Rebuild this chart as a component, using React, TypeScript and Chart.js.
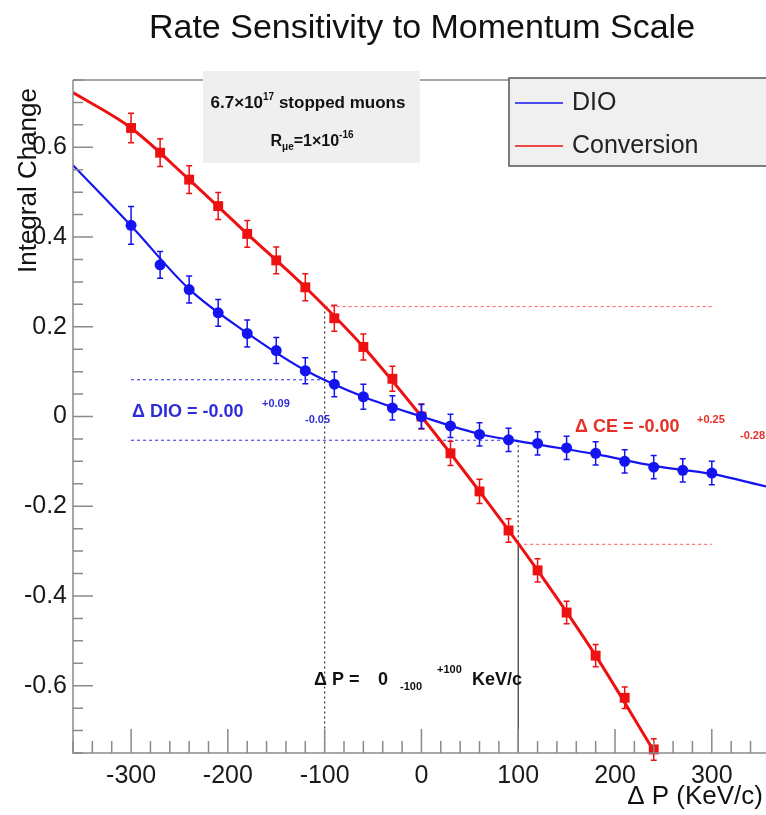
import React, { useEffect, useRef } from "react";
import { Chart, registerables } from "chart.js";

Chart.register(...registerables);

const FAMILY = "'Liberation Sans', Arial, Helvetica, sans-serif";

const TITLE = "Rate Sensitivity to Momentum Scale";
const X_TITLE = "Δ P (KeV/c)";
const Y_TITLE = "Integral Change";

const X_MIN = -360;
const X_MAX = 356;
const Y_MIN = -0.75;
const Y_MAX = 0.75;
const X_TICKS = [-300, -200, -100, 0, 100, 200, 300];
const Y_TICKS = [-0.6, -0.4, -0.2, 0, 0.2, 0.4, 0.6];
const X_MINOR_STEP = 20;
const Y_MINOR_STEP = 0.05;

// DIO measurements
const dioX = [-300, -270, -240, -210, -180, -150, -120, -90, -60, -30, 0, 30, 60, 90, 120, 150, 180, 210, 240, 270, 300];
const dioY = [0.426, 0.338, 0.283, 0.231, 0.185, 0.147, 0.102, 0.072, 0.044, 0.019, 0.0, -0.021, -0.04, -0.052, -0.06, -0.07, -0.082, -0.1, -0.113, -0.12, -0.126];
const dioErr = [0.042, 0.03, 0.03, 0.03, 0.03, 0.029, 0.029, 0.028, 0.028, 0.027, 0.027, 0.026, 0.026, 0.026, 0.026, 0.026, 0.026, 0.026, 0.026, 0.026, 0.026];

// Conversion measurements
const ceX = [-300, -270, -240, -210, -180, -150, -120, -90, -60, -30, 0, 30, 60, 90, 120, 150, 180, 210, 240];
const ceY = [0.643, 0.588, 0.528, 0.469, 0.407, 0.348, 0.288, 0.219, 0.155, 0.084, 0.0, -0.082, -0.167, -0.254, -0.343, -0.437, -0.533, -0.627, -0.742];
const ceErr = [0.033, 0.031, 0.031, 0.03, 0.03, 0.03, 0.03, 0.029, 0.029, 0.028, 0.028, 0.027, 0.027, 0.026, 0.026, 0.025, 0.025, 0.024, 0.024];

// Fit curves
const dioFitX = [-360, -300, -240, -180, -120, -60, 0, 60, 120, 180, 240, 300, 356];
const dioFitY = [0.56, 0.425, 0.284, 0.186, 0.103, 0.044, 0.0, -0.039, -0.062, -0.084, -0.11, -0.128, -0.156];
const ceFitX = [-360, -300, -240, -180, -120, -60, 0, 60, 120, 180, 240];
const ceFitY = [0.722, 0.643, 0.528, 0.407, 0.288, 0.155, 0.0, -0.167, -0.343, -0.533, -0.745];

// Uncertainty guide lines
const dioUpper = 0.082;
const dioLower = -0.053;
const ceUpper = 0.245;
const ceLower = -0.285;
const pLow = -100;
const pHigh = 100;
const guideXStart = -300;
const guideXEnd = 300;

const BLUE = "#1414f0";
const RED = "#ee1111";

type Seg = { t: string; size: number; dy: number };

function rich(ctx: CanvasRenderingContext2D, segs: Seg[], x: number, y: number, center: boolean, color: string, bold: boolean) {
  const fonts = segs.map((s) => `${bold ? "bold " : ""}${s.size}px ${FAMILY}`);
  const widths = segs.map((s, i) => {
    ctx.font = fonts[i];
    return ctx.measureText(s.t).width;
  });
  const total = widths.reduce((a, b) => a + b, 0);
  let cx = center ? x - total / 2 : x;
  ctx.fillStyle = color;
  ctx.textAlign = "left";
  ctx.textBaseline = "alphabetic";
  segs.forEach((s, i) => {
    ctx.font = fonts[i];
    ctx.fillText(s.t, cx, y + s.dy);
    cx += widths[i];
  });
}

function txt(ctx: CanvasRenderingContext2D, t: string, x: number, y: number, font: string, color: string, align: CanvasTextAlign = "left") {
  ctx.font = font;
  ctx.fillStyle = color;
  ctx.textAlign = align;
  ctx.textBaseline = "middle";
  ctx.fillText(t, x, y);
}

const rootPlugin = {
  id: "rootStyle",
  beforeDatasetsDraw(chart: any) {
    const { ctx, chartArea: a, scales } = chart;
    const x = scales.x;
    const y = scales.y;
    ctx.save();
    ctx.beginPath();
    ctx.rect(a.left, a.top, a.right - a.left, a.bottom - a.top);
    ctx.clip();
    const seg = (x1: number, y1: number, x2: number, y2: number, color: string, dash: number[]) => {
      ctx.beginPath();
      ctx.setLineDash(dash);
      ctx.strokeStyle = color;
      ctx.lineWidth = 1.2;
      ctx.moveTo(x.getPixelForValue(x1), y.getPixelForValue(y1));
      ctx.lineTo(x.getPixelForValue(x2), y.getPixelForValue(y2));
      ctx.stroke();
    };
    seg(guideXStart, dioUpper, pLow, dioUpper, "#4d4dee", [3, 3]);
    seg(guideXStart, dioLower, pHigh, dioLower, "#4d4dee", [3, 3]);
    seg(pLow, ceUpper, guideXEnd, ceUpper, "#ff7070", [3, 3]);
    seg(pHigh, ceLower, guideXEnd, ceLower, "#ff7070", [3, 3]);
    seg(pLow, ceUpper, pLow, Y_MIN, "#333", [2, 3]);
    seg(pHigh, dioLower, pHigh, ceLower, "#333", [2, 3]);
    seg(pHigh, ceLower, pHigh, Y_MIN, "#333", []);
    ctx.restore();
  },
  beforeDatasetDraw(chart: any, args: any) {
    const ds = chart.data.datasets[args.index];
    if (!ds.errors) return;
    const { ctx, scales } = chart;
    const y = scales.y;
    ctx.save();
    ctx.strokeStyle = ds.borderColor;
    ctx.lineWidth = 1.5;
    args.meta.data.forEach((pt: any, i: number) => {
      const v = ds.data[i].y;
      const e = ds.errors[i];
      const top = y.getPixelForValue(v + e);
      const bot = y.getPixelForValue(v - e);
      ctx.beginPath();
      ctx.moveTo(pt.x, top);
      ctx.lineTo(pt.x, bot);
      ctx.moveTo(pt.x - 3, top);
      ctx.lineTo(pt.x + 3, top);
      ctx.moveTo(pt.x - 3, bot);
      ctx.lineTo(pt.x + 3, bot);
      ctx.stroke();
    });
    ctx.restore();
  },
  afterDatasetsDraw(chart: any) {
    const { ctx, chartArea: a, scales } = chart;
    const x = scales.x;
    const y = scales.y;
    ctx.save();
    ctx.strokeStyle = "#8a8a8a";
    ctx.lineWidth = 1.5;
    ctx.beginPath();
    ctx.moveTo(a.left, a.top);
    ctx.lineTo(a.left, a.bottom);
    ctx.lineTo(a.right, a.bottom);
    ctx.moveTo(a.left, a.top);
    ctx.lineTo(a.right, a.top);
    ctx.stroke();
    ctx.beginPath();
    for (let k = Math.ceil(X_MIN / X_MINOR_STEP); k * X_MINOR_STEP <= X_MAX; k++) {
      const v = k * X_MINOR_STEP;
      const px = x.getPixelForValue(v);
      const major = X_TICKS.includes(v);
      ctx.moveTo(px, a.bottom);
      ctx.lineTo(px, a.bottom - (major ? 24 : 12));
    }
    for (let k = Math.ceil(Y_MIN / Y_MINOR_STEP - 1e-9); k * Y_MINOR_STEP <= Y_MAX + 1e-9; k++) {
      const v = k * Y_MINOR_STEP;
      const py = y.getPixelForValue(v);
      const major = Y_TICKS.some((t) => Math.abs(t - v) < 1e-6);
      ctx.moveTo(a.left, py);
      ctx.lineTo(a.left + (major ? 20 : 10), py);
    }
    ctx.stroke();
    ctx.restore();
  },
  afterDraw(chart: any) {
    const { ctx } = chart;
    ctx.save();
    // title
    txt(ctx, TITLE, 422, 29, `34px ${FAMILY}`, "#111", "center");
    // axis titles
    txt(ctx, X_TITLE, 763, 797, `26px ${FAMILY}`, "#111", "right");
    ctx.save();
    ctx.translate(29, 88);
    ctx.rotate(-Math.PI / 2);
    txt(ctx, Y_TITLE, 0, 0, `26px ${FAMILY}`, "#111", "right");
    ctx.restore();

    // info box
    ctx.fillStyle = "#efefef";
    ctx.fillRect(203, 71, 217, 92);
    rich(ctx, [
      { t: "6.7×10", size: 17, dy: 0 },
      { t: "17", size: 10, dy: -8 },
      { t: " stopped muons", size: 17, dy: 0 },
    ], 308, 108, true, "#111", true);
    rich(ctx, [
      { t: "R", size: 16, dy: 0 },
      { t: "μe", size: 10, dy: 4 },
      { t: "=1×10", size: 16, dy: 0 },
      { t: "-16", size: 10, dy: -8 },
    ], 312, 146, true, "#111", true);

    // legend
    ctx.fillStyle = "#f0f0f0";
    ctx.fillRect(509, 78, 264, 88);
    ctx.strokeStyle = "#555";
    ctx.lineWidth = 1.5;
    ctx.strokeRect(509, 78, 270, 88);
    ctx.lineWidth = 1.5;
    ctx.strokeStyle = BLUE;
    ctx.beginPath();
    ctx.moveTo(515, 103);
    ctx.lineTo(563, 103);
    ctx.stroke();
    ctx.strokeStyle = RED;
    ctx.beginPath();
    ctx.moveTo(515, 146);
    ctx.lineTo(563, 146);
    ctx.stroke();
    txt(ctx, "DIO", 572, 103, `25px ${FAMILY}`, "#222");
    txt(ctx, "Conversion", 572, 146, `25px ${FAMILY}`, "#222");

    // annotations
    const B18 = `bold 18px ${FAMILY}`;
    const B11 = `bold 11px ${FAMILY}`;
    txt(ctx, "Δ DIO = -0.00", 132, 412, B18, "#2d2dd8");
    txt(ctx, "+0.09", 262, 404, B11, "#2d2dd8");
    txt(ctx, "-0.05", 305, 420, B11, "#2d2dd8");
    txt(ctx, "Δ CE = -0.00", 575, 427, B18, "#e63026");
    txt(ctx, "+0.25", 697, 420, B11, "#e63026");
    txt(ctx, "-0.28", 740, 436, B11, "#e63026");
    txt(ctx, "Δ P =", 314, 680, B18, "#111");
    txt(ctx, "0", 378, 680, B18, "#111");
    txt(ctx, "-100", 400, 687, B11, "#111");
    txt(ctx, "+100", 437, 670, B11, "#111");
    txt(ctx, "KeV/c", 472, 680, B18, "#111");
    ctx.restore();
  },
};

export default function App() {
  const ref = useRef<HTMLCanvasElement | null>(null);
  useEffect(() => {
    if (!ref.current) return;
    const chart = new Chart(ref.current, {
      type: "line",
      data: {
        datasets: [
          {
            label: "DIO data",
            data: dioX.map((v, i) => ({ x: v, y: dioY[i] })),
            errors: dioErr,
            showLine: false,
            pointStyle: "circle",
            pointRadius: 5.5,
            pointBackgroundColor: BLUE,
            pointBorderColor: BLUE,
            pointBorderWidth: 0,
            borderColor: BLUE,
            backgroundColor: BLUE,
            order: 0,
            clip: false,
          } as any,
          {
            label: "Conversion data",
            data: ceX.map((v, i) => ({ x: v, y: ceY[i] })),
            errors: ceErr,
            showLine: false,
            pointStyle: "rect",
            pointRadius: 7,
            pointBackgroundColor: RED,
            pointBorderColor: RED,
            pointBorderWidth: 0,
            borderColor: RED,
            backgroundColor: RED,
            order: 0,
            clip: false,
          } as any,
          {
            label: "DIO",
            data: dioFitX.map((v, i) => ({ x: v, y: dioFitY[i] })),
            borderColor: BLUE,
            borderWidth: 2.2,
            pointRadius: 0,
            cubicInterpolationMode: "monotone",
            fill: false,
            order: 1,
            clip: 0,
          } as any,
          {
            label: "Conversion",
            data: ceFitX.map((v, i) => ({ x: v, y: ceFitY[i] })),
            borderColor: RED,
            borderWidth: 3,
            pointRadius: 0,
            cubicInterpolationMode: "monotone",
            fill: false,
            order: 1,
            clip: 0,
          } as any,
        ],
      },
      options: {
        animation: false,
        responsive: false,
        maintainAspectRatio: false,
        events: [],
        layout: { padding: { top: 80, left: 0, right: 0, bottom: 0 } },
        plugins: {
          legend: { display: false },
          title: { display: false },
          tooltip: { enabled: false },
        },
        scales: {
          x: {
            type: "linear",
            min: X_MIN,
            max: X_MAX,
            grid: { display: false, drawTicks: false },
            border: { display: false },
            afterBuildTicks: (s: any) => {
              s.ticks = X_TICKS.map((v) => ({ value: v }));
            },
            afterFit: (s: any) => {
              s.height = 62;
              s.paddingLeft = 0;
              s.paddingRight = 0;
            },
            ticks: {
              font: { size: 25, family: FAMILY },
              color: "#1a1a1a",
              padding: 8,
              maxRotation: 0,
              autoSkip: false,
              callback: (v: any) => String(v),
            },
          },
          y: {
            type: "linear",
            min: Y_MIN,
            max: Y_MAX,
            grid: { display: false, drawTicks: false },
            border: { display: false },
            afterBuildTicks: (s: any) => {
              s.ticks = Y_TICKS.map((v) => ({ value: v }));
            },
            afterFit: (s: any) => {
              s.width = 73;
              s.paddingTop = 0;
              s.paddingBottom = 0;
            },
            ticks: {
              font: { size: 25, family: FAMILY },
              color: "#1a1a1a",
              padding: 6,
              autoSkip: false,
              callback: (v: any) => (Math.abs(v) < 1e-9 ? "0" : Number(v).toFixed(1)),
            },
          },
        },
      } as any,
      plugins: [rootPlugin],
    });
    return () => chart.destroy();
  }, []);
  return (
    <div style={{ position: "absolute", left: 0, top: 0, width: 766, height: 815, overflow: "hidden", background: "#fff" }}>
      <canvas ref={ref} width={773} height={815} style={{ width: 773, height: 815, display: "block" }} />
    </div>
  );
}
